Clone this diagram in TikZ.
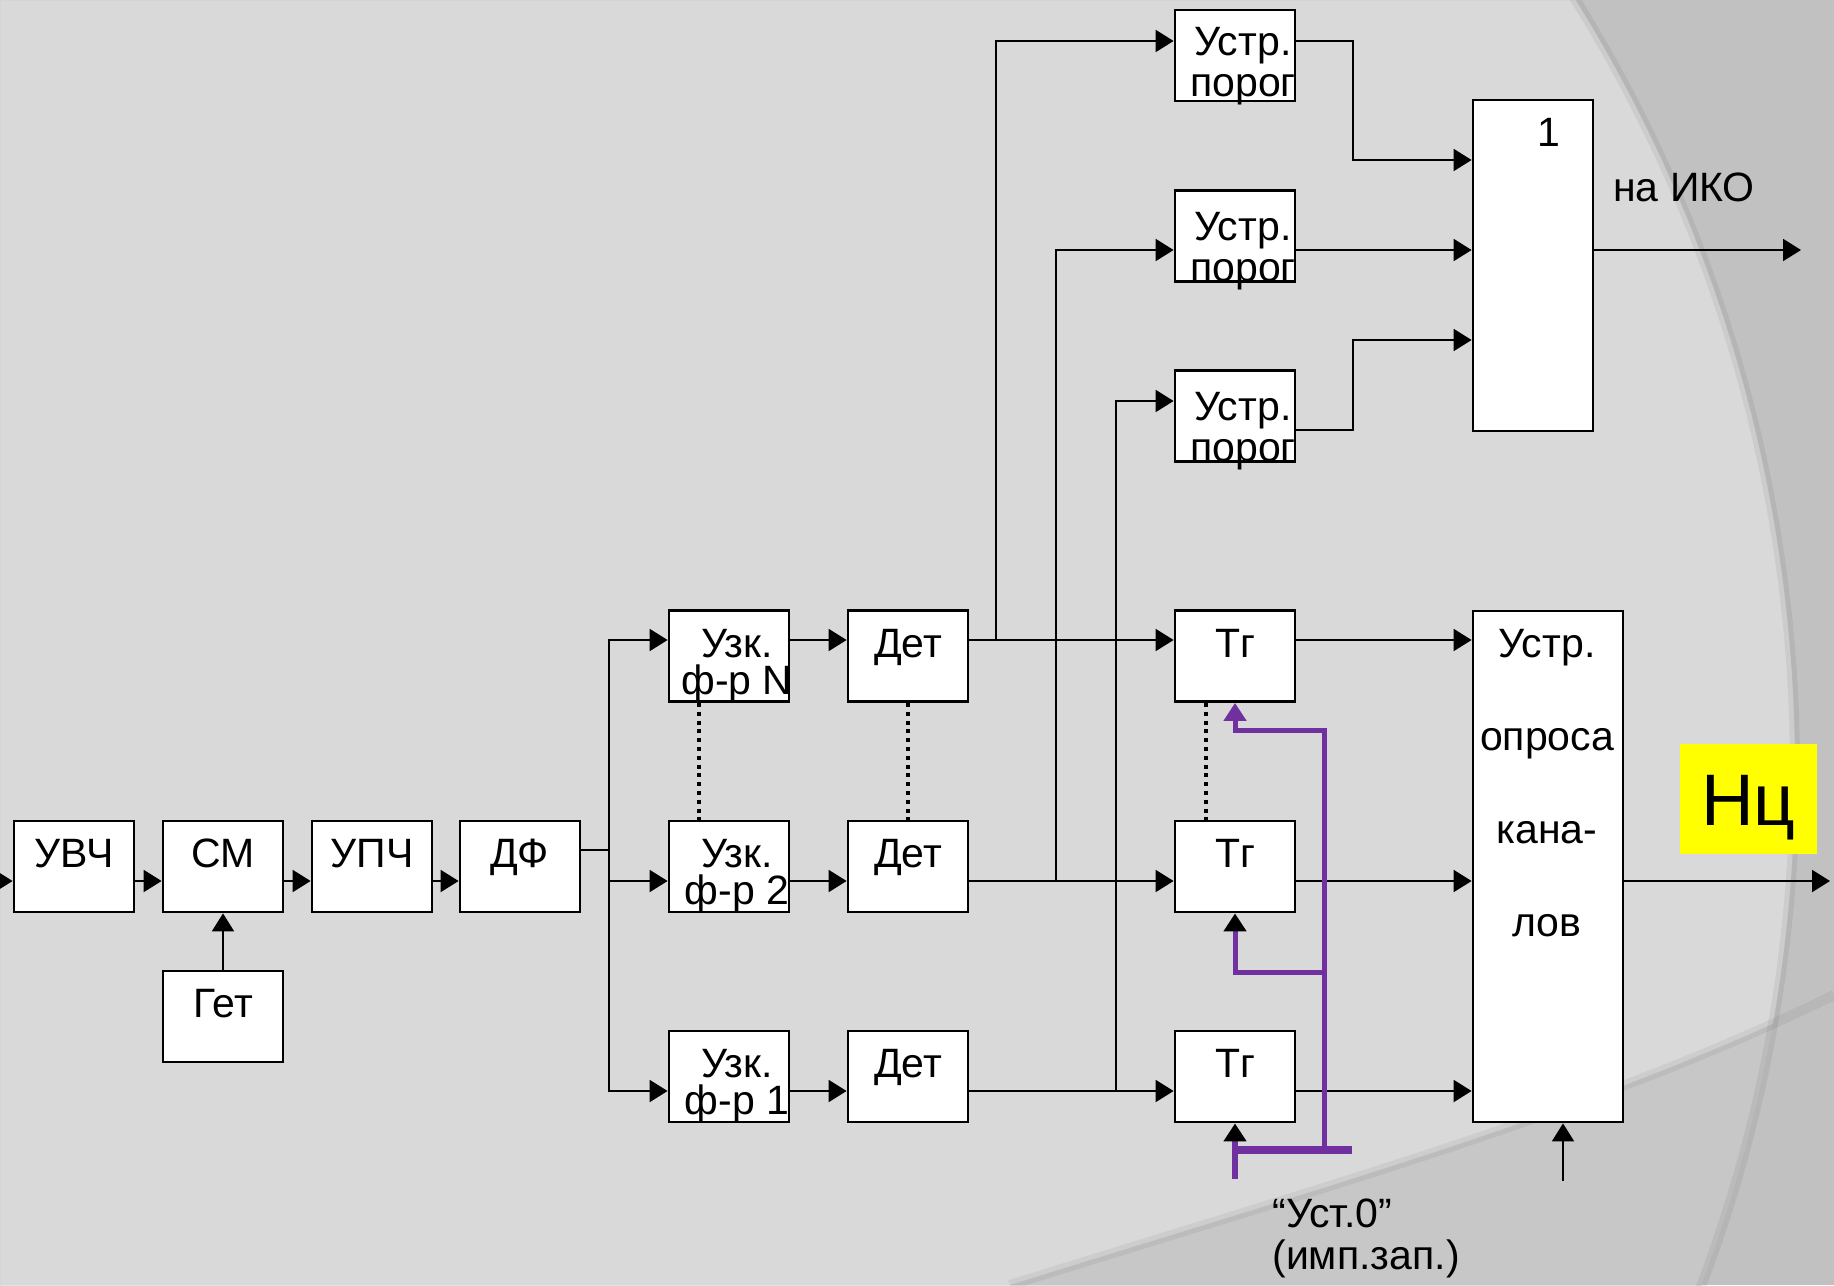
\documentclass[tikz,border=0pt]{standalone}
\usepackage{fontspec}
\setmainfont{Liberation Sans}
\usetikzlibrary{arrows.meta,positioning,calc}
\definecolor{slidegray}{HTML}{D9D9D9}
\definecolor{rstpurple}{HTML}{7030A0}
\definecolor{ncyellow}{HTML}{FFFF00}

\begin{document}
\begin{tikzpicture}[
    x=0.5pt, y=-0.5pt,
    >={Triangle[length=9pt,width=11pt]},
    every node/.style={font=\fontsize{20.5}{24}\selectfont},
    blk/.style={draw, fill=white, line width=1.4pt, inner sep=0pt,
        minimum width=60pt, minimum height=45.5pt,
        text height=14.7pt, text depth=13.3pt},
    lbl/.style={inner sep=0pt, text height=14.7pt, text depth=0pt},
    mlbl/.style={inner sep=0pt, anchor=north, align=center},
    wire/.style={line width=1pt},
    arr/.style={->, line width=1pt},
    dline/.style={line width=1.6pt, dash pattern=on 2pt off 2.4pt},
    rst/.style={rstpurple, line width=2.5pt},
    rtip/.style={-{Triangle[length=9pt,width=11pt,color=black]}}
]
    \useasboundingbox (0,0) rectangle (1834,1285);
    \fill[slidegray] (0,0) rectangle (1834,1285);
    \begin{scope}
        \clip (0,0) rectangle (1834,1285);
        \fill[black, opacity=0.11, even odd rule]
            (0,0) rectangle (1834,1285) (335,770) circle [radius=730pt];
        \begin{scope}
            \clip (335,770) circle [radius=730pt];
            \fill[black, opacity=0.08] (1010,1285) .. controls (1330,1185) and (1600,1110) .. (1834,995) -- (1834,1285) -- cycle;
        \end{scope}
        \draw[black, opacity=0.06, line width=5pt] (335,770) circle [radius=730pt];
        \draw[black, opacity=0.05, line width=5pt] (1010,1285) .. controls (1330,1185) and (1600,1110) .. (1834,995);
    \end{scope}

    \node[blk] (uvch) at (74,866.5) {УВЧ};
    \node[blk] (cm) at (223,866.5) {СМ};
    \node[blk] (upch) at (372,866.5) {УПЧ};
    \node[blk] (df) at (520,866.5) {ДФ};
    \node[blk] (get) at (223,1016.5) {Гет};

    \node[blk] (uzkN) at (729,656) {};
    \node[blk] (uzk2) at (729,866.5) {};
    \node[blk] (uzk1) at (729,1076.5) {};
    \node[mlbl, font=\fontsize{20.5}{18.5}\selectfont] (uzkNt) at (737,629) {Узк.\\ф-р N};
    \node[mlbl, font=\fontsize{20.5}{18.5}\selectfont] (uzk2t) at (737,839) {Узк.\\ф-р 2};
    \node[mlbl, font=\fontsize{20.5}{18.5}\selectfont] (uzk1t) at (737,1049) {Узк.\\ф-р 1};

    \node[blk] (detN) at (908,656) {Дет};
    \node[blk] (det2) at (908,866.5) {Дет};
    \node[blk] (det1) at (908,1076.5) {Дет};

    \node[blk] (tgN) at (1235,656) {Тг};
    \node[blk] (tg2) at (1235,866.5) {Тг};
    \node[blk] (tg1) at (1235,1076.5) {Тг};

    \node[blk] (thr1) at (1235,55.5) {};
    \node[blk] (thr2) at (1235,236) {};
    \node[blk] (thr3) at (1235,416) {};
    \node[mlbl, font=\fontsize{20.5}{20.5}\selectfont] (thr1t) at (1243,27) {Устр.\\порог};
    \node[mlbl, font=\fontsize{20.5}{20.5}\selectfont] (thr2t) at (1243,212) {Устр.\\порог};
    \node[mlbl, font=\fontsize{20.5}{20.5}\selectfont] (thr3t) at (1243,392) {Устр.\\порог};

    \node[blk, minimum height=165.5pt] (orbox) at (1533,265.5) {};
    \node[lbl] (orone) at (1549,132) {1};
    \node[lbl] (iko) at (1684,187) {на ИКО};

    \node[blk, minimum width=75pt, minimum height=255.5pt] (poll) at (1548,866.5) {};
    \node[mlbl, font=\fontsize{20.5}{46.5}\selectfont] (pollt) at (1547,629) {Устр.\\опроса\\кана-\\лов};

    \node[fill=ncyellow, inner sep=0pt, minimum width=68.5pt, minimum height=55pt,
        font=\fontsize{36.5}{40}\selectfont, text height=26.1pt, text depth=0pt] (nc) at (1748.5,799) {Нц};

    \node[mlbl, anchor=north west, align=left, font=\fontsize{20.5}{21}\selectfont] (ust0t) at (1272,1198) {“Уст.0”\\(имп.зап.)};

    \coordinate (src) at (0,881);
    \coordinate (bus) at (609,850);
    \coordinate (rN) at (0,640);
    \coordinate (r2) at (0,881);
    \coordinate (r1) at (0,1091);
    \coordinate (cN) at (996,0);
    \coordinate (c2) at (1056,0);
    \coordinate (c1) at (1116,0);
    \coordinate (cout) at (1353,0);
    \coordinate (q1) at (0,41);
    \coordinate (q2) at (0,250);
    \coordinate (q3) at (0,401);
    \coordinate (q3o) at (0,430);
    \coordinate (o1) at (0,160);
    \coordinate (o3) at (0,340);
    \coordinate (ikoend) at (1801,250);
    \coordinate (ncend) at (1830,881);
    \coordinate (pollin) at (1563,1181);
    \coordinate (rsttop) at (1324,730);
    \coordinate (rstmid) at (1324,972);
    \coordinate (rstbus) at (1324,1150);
    \coordinate (rstend) at (1352,1150);
    \coordinate (ust0) at (1235,1179);

    \draw[arr] (src) -- (uvch.west |- src);
    \draw[arr] (uvch.east |- src) -- (cm.west |- src);
    \draw[arr] (cm.east |- src) -- (upch.west |- src);
    \draw[arr] (upch.east |- src) -- (df.west |- src);
    \draw[arr] (get) -- (cm);

    \draw[wire] (df.east |- bus) -- (bus);
    \draw[arr] (bus) |- (uzkN.west |- rN);
    \draw[arr] (bus |- r2) -- (uzk2.west |- r2);
    \draw[arr] (bus) |- (uzk1.west |- r1);

    \draw[arr] (uzkN.east |- rN) -- (detN.west |- rN);
    \draw[arr] (uzk2.east |- r2) -- (det2.west |- r2);
    \draw[arr] (uzk1.east |- r1) -- (det1.west |- r1);
    \draw[arr] (detN.east |- rN) -- (tgN.west |- rN);
    \draw[arr] (det2.east |- r2) -- (tg2.west |- r2);
    \draw[arr] (det1.east |- r1) -- (tg1.west |- r1);
    \draw[arr] (tgN.east |- rN) -- (poll.west |- rN);
    \draw[arr] (tg2.east |- r2) -- (poll.west |- r2);
    \draw[arr] (tg1.east |- r1) -- (poll.west |- r1);

    \draw[arr] (cN |- rN) |- (thr1.west |- q1);
    \draw[arr] (c2 |- r2) |- (thr2.west |- q2);
    \draw[arr] (c1 |- r1) |- (thr3.west |- q3);

    \draw[arr] (thr1.east |- q1) -| (cout |- o1) -- (orbox.west |- o1);
    \draw[arr] (thr2.east |- q2) -- (orbox.west |- q2);
    \draw[arr] (thr3.east |- q3o) -| (cout |- o3) -- (orbox.west |- o3);
    \draw[arr] (orbox.east |- q2) -- (ikoend);
    \draw[arr] (poll.east |- r2) -- (ncend);
    \draw[arr] (pollin) -- (pollin |- poll.south);

    \draw[dline] ([xshift=-15pt]uzkN.south) -- ([xshift=-15pt]uzk2.north);
    \draw[dline] (detN.south) -- (det2.north);
    \draw[dline] ([xshift=-14.5pt]tgN.south) -- ([xshift=-14.5pt]tg2.north);

    \draw[rst, line width=4pt] (ust0 |- rstend) -- (rstend);
    \draw[rst, ->] (rstbus) -- (rsttop) -| (tgN.south);
    \draw[rst, rtip] (rstmid) -| (tg2.south);
    \draw[rst, line width=3pt, rtip] (ust0) -- (tg1.south);
\end{tikzpicture}
\end{document}
